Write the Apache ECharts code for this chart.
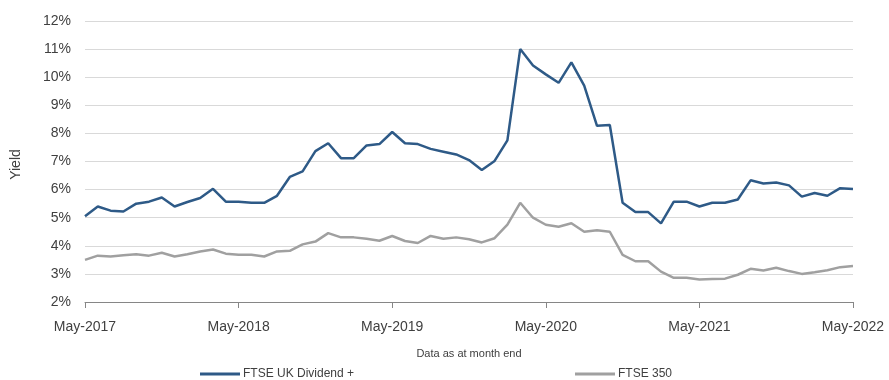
<!DOCTYPE html>
<html><head><meta charset="utf-8">
<script src="https://cdn.jsdelivr.net/npm/echarts@6/dist/echarts.min.js"></script>
<style>html,body{margin:0;padding:0;background:#fff}#c{width:889px;height:380px}</style>
</head><body><div id="c"></div>
<script>
const months = ['Jan','Feb','Mar','Apr','May','Jun','Jul','Aug','Sep','Oct','Nov','Dec'];
const categories = [];
for (let y = 2017, m = 4; categories.length < 61; ) { categories.push(months[m] + '-' + y); m++; if (m === 12) { m = 0; y++; } }
const dividendPlus = [5.05,5.4,5.25,5.22,5.5,5.57,5.72,5.4,5.56,5.7,6.03,5.57,5.57,5.53,5.53,5.78,6.45,6.65,7.37,7.65,7.12,7.12,7.57,7.62,8.05,7.65,7.62,7.45,7.35,7.25,7.05,6.7,7.02,7.75,11.0,10.42,10.1,9.8,10.53,9.7,8.27,8.3,5.53,5.2,5.2,4.8,5.57,5.57,5.4,5.53,5.53,5.65,6.33,6.22,6.25,6.15,5.75,5.88,5.78,6.05,6.02];
const ftse350 = [3.5,3.65,3.62,3.66,3.7,3.65,3.75,3.62,3.7,3.8,3.87,3.72,3.68,3.68,3.62,3.8,3.82,4.05,4.15,4.45,4.3,4.3,4.25,4.18,4.35,4.17,4.1,4.35,4.25,4.3,4.23,4.12,4.27,4.75,5.53,5.0,4.75,4.68,4.8,4.5,4.55,4.5,3.68,3.45,3.45,3.08,2.86,2.86,2.8,2.82,2.83,2.97,3.18,3.12,3.22,3.1,3.0,3.06,3.13,3.24,3.28];
const names = ['FTSE UK Dividend +','FTSE 350'];
const font = 'Liberation Sans, Arial, sans-serif';
const chart = echarts.init(document.getElementById('c'), null, {renderer:'canvas'});
chart.setOption({
  animation:false,
  textStyle:{fontFamily:font},
  grid:{left:85,right:36,top:21,bottom:78,containLabel:false},
  legend:[
    {data:[names[0]],left:200,top:368,padding:0,itemWidth:40,itemHeight:3,icon:'rect',itemGap:4,textStyle:{fontSize:12,color:'#404040',fontFamily:font,padding:[0,0,0,-2]}},
    {data:[names[1]],left:575,top:368,padding:0,itemWidth:40,itemHeight:3,icon:'rect',itemGap:4,textStyle:{fontSize:12,color:'#404040',fontFamily:font,padding:[0,0,0,-2]}}
  ],
  xAxis:{
    type:'category',data:categories,boundaryGap:false,
    name:'Data as at month end',nameLocation:'middle',nameGap:46,
    nameTextStyle:{fontSize:11,color:'#404040'},
    axisLine:{lineStyle:{color:'#868686',width:1}},
    axisTick:{show:true,interval:11,length:6,lineStyle:{color:'#868686'}},
    axisLabel:{interval:11,fontSize:14,color:'#404040',margin:18,showMaxLabel:true},
    splitLine:{show:false}
  },
  yAxis:{
    type:'value',min:2,max:12,interval:1,
    name:'Yield',nameLocation:'middle',nameGap:62,nameRotate:90,
    nameTextStyle:{fontSize:14,color:'#404040',padding:[0,0,0,-6]},
    axisLine:{show:false},axisTick:{show:false},
    axisLabel:{formatter:v=>v+'%',fontSize:14,color:'#404040',margin:14},
    splitLine:{lineStyle:{color:'#d9d9d9',width:1}}
  },
  series:[
    {name:names[0],type:'line',data:dividendPlus,symbol:'none',lineStyle:{color:'#2e5a87',width:2.5},itemStyle:{color:'#2e5a87'}},
    {name:names[1],type:'line',data:ftse350,symbol:'none',lineStyle:{color:'#a0a0a0',width:2.5},itemStyle:{color:'#a0a0a0'}}
  ]
});
</script></body></html>
